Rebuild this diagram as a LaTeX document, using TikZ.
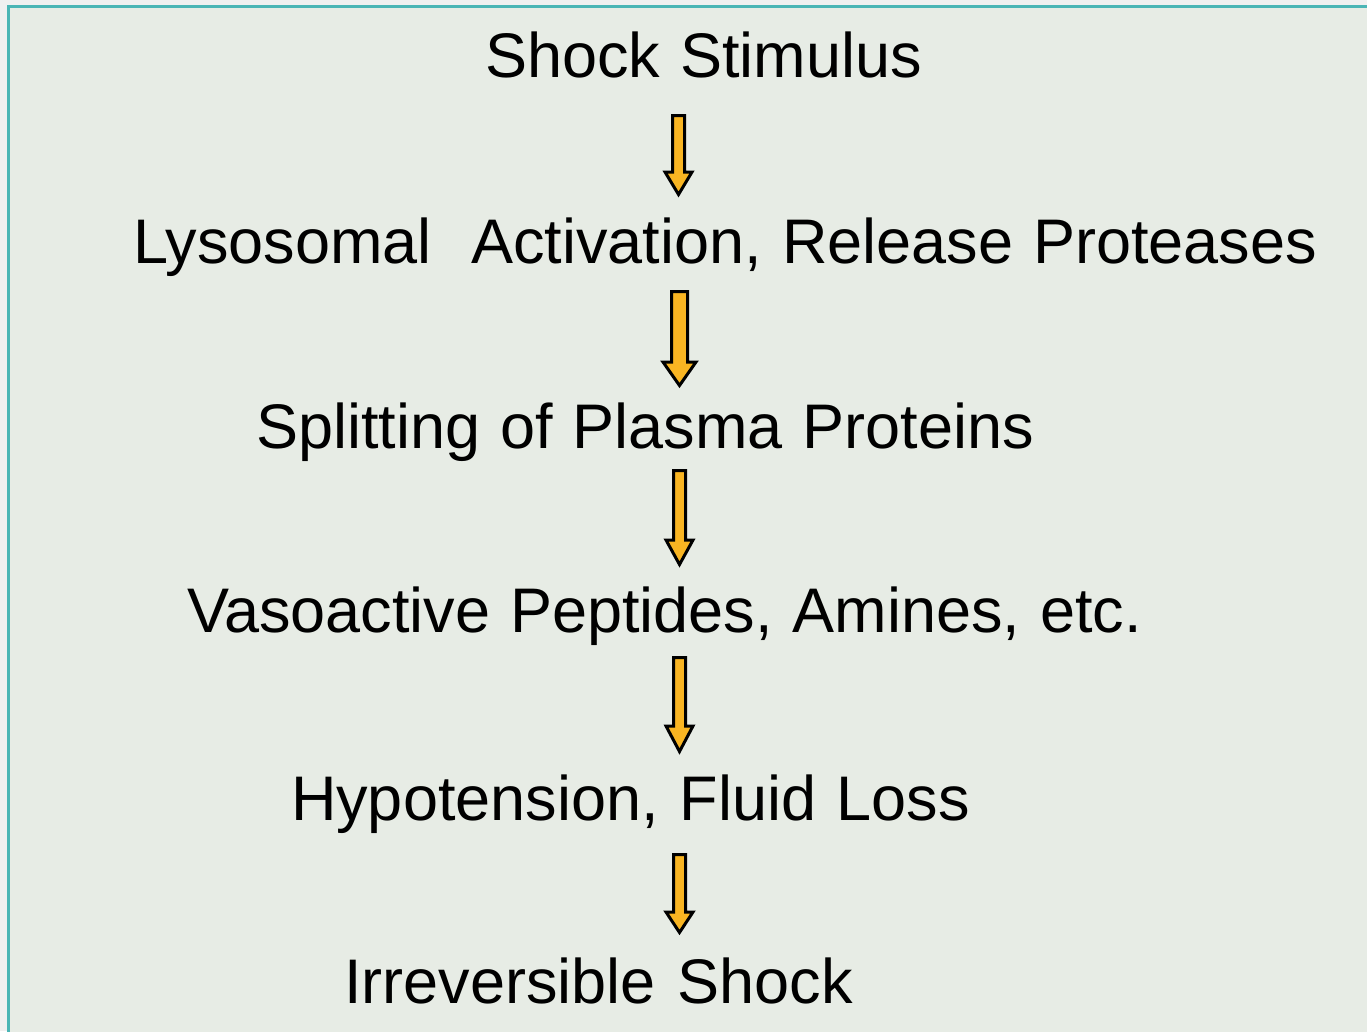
\documentclass[tikz,border=0pt]{standalone}
\usepackage{fontspec}
\setmainfont{Liberation Sans}
\definecolor{bgout}{HTML}{F0F0F0}
\definecolor{panel}{HTML}{E7ECE5}
\definecolor{frame}{HTML}{4BB5B5}
\definecolor{arrowfill}{HTML}{F9B522}
\tikzset{
  lbl/.style={anchor=base west, inner sep=0pt, outer sep=0pt, font=\fontsize{63}{70}\selectfont, text=black},
  blockarr/.style={draw=black, fill=arrowfill, line width=3pt, line join=miter},
}
% x, top, headstart, tip, half shaft, half head
\newcommand{\blockarrow}[6]{%
  \draw[blockarr] (#1-#5,#2) -- (#1+#5,#2) -- (#1+#5,#3) -- (#1+#6,#3) -- (#1,#4)
    -- (#1-#6,#3) -- (#1-#5,#3) -- cycle;}
\begin{document}
\begin{tikzpicture}[x=1pt,y=-1pt]
\useasboundingbox (0,0) rectangle (1367,1031);
\fill[bgout] (0,0) rectangle (1367,1031);
\fill[panel] (8.5,6.5) rectangle (1380,1045);
\draw[frame, line width=3.5pt] (1380,6.5) -- (8.5,6.5) -- (8.5,1045);

\node[lbl] (s1) at (485,77) {\makebox[437pt][s]{Shock Stimulus}};
\node[lbl] (s2) at (133,263) {\makebox[1184pt][s]{Lysosomal\ \ Activation, Release Proteases}};
\node[lbl] (s3) at (256,448) {\makebox[778pt][s]{Splitting of Plasma Proteins}};
\node[lbl] (s4) at (187,632) {\makebox[955pt][s]{Vasoactive Peptides, Amines, etc.}};
\node[lbl] (s5) at (291,820) {\makebox[679pt][s]{Hypotension, Fluid Loss}};
\node[lbl] (s6) at (344,1003) {\makebox[509pt][s]{Irreversible Shock}};

\blockarrow{678.5}{115.5}{172}{194.5}{6}{13.5}
\blockarrow{679.5}{291.5}{362}{385.5}{8}{16.5}
\blockarrow{679.5}{470.5}{540}{564.5}{6}{13.5}
\blockarrow{679.5}{657.5}{726}{751.5}{6}{13.5}
\blockarrow{679.5}{854.5}{912}{932.5}{6}{13.5}
\end{tikzpicture}
\end{document}
